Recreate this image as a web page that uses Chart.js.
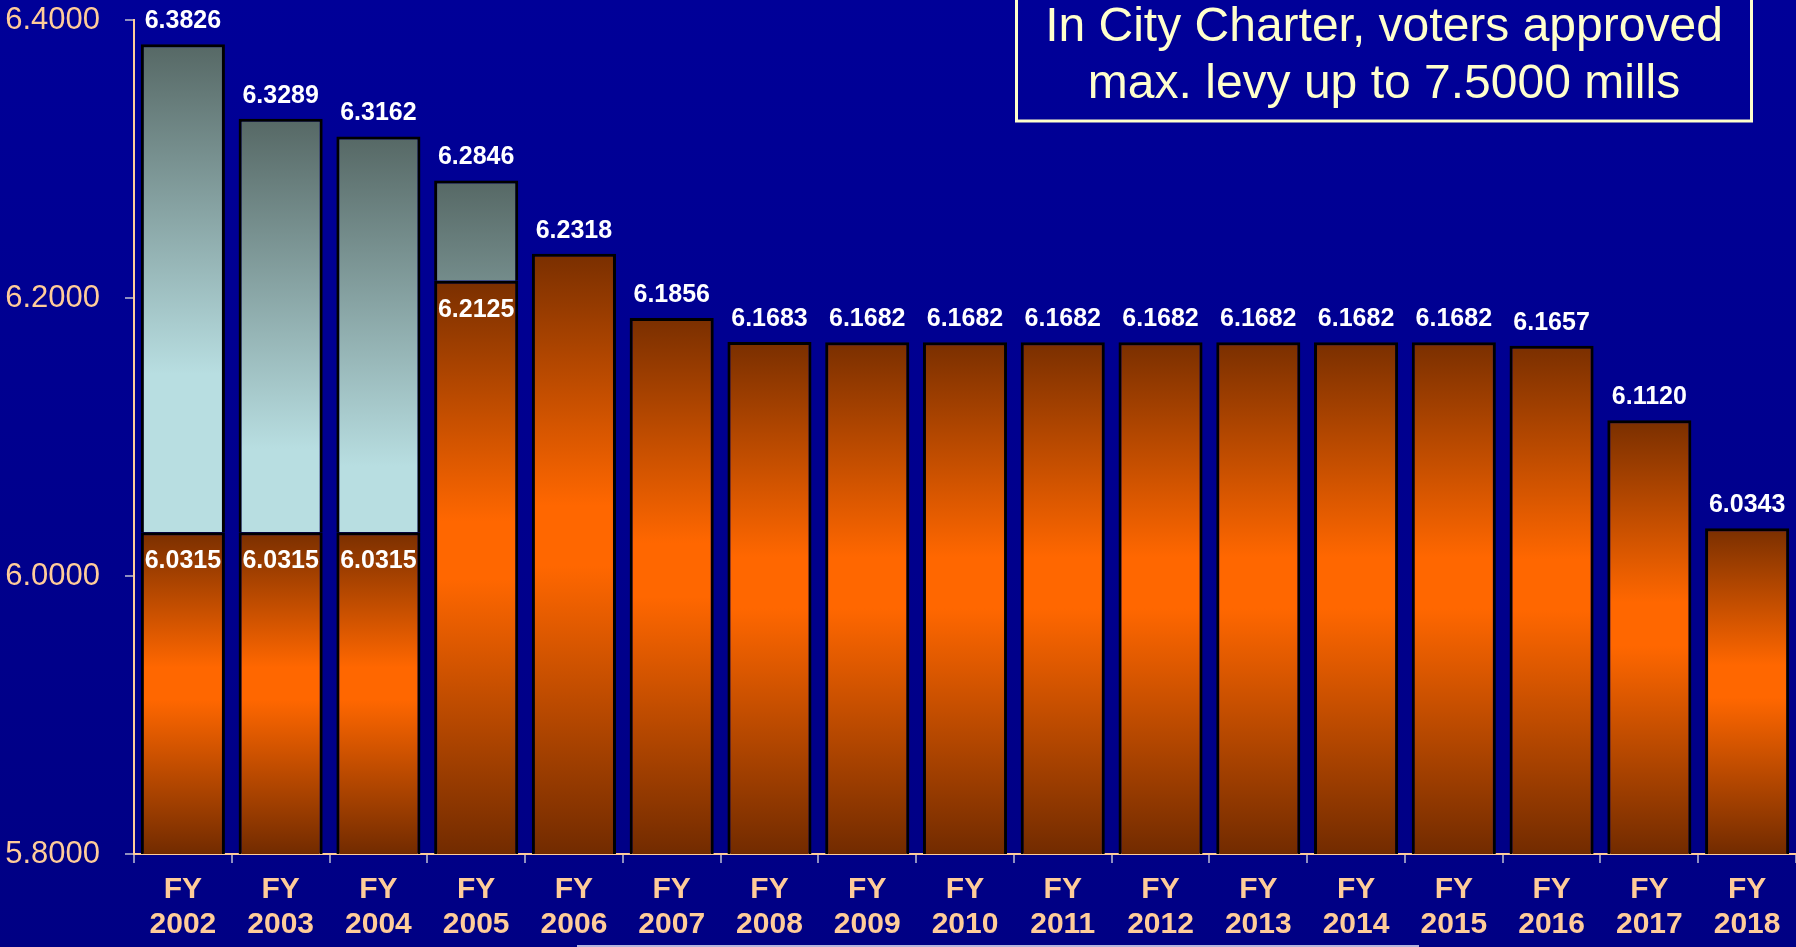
<!DOCTYPE html>
<html>
<head>
<meta charset="utf-8">
<title>Millage levy FY2002-FY2018</title>
<script src="https://cdn.jsdelivr.net/npm/chart.js@4.4.1/dist/chart.umd.min.js"></script>
<style>
  html, body { margin: 0; padding: 0; }
  body { background: linear-gradient(#000098, #000084); }
  #wrap { width: 1796px; height: 947px; position: relative; }
</style>
</head>
<body>
<div id="wrap"><canvas id="levyChart"></canvas></div>
<script>
// anni fiscali
const years = ['2002', '2003', '2004', '2005', '2006', '2007', '2008', '2009', '2010',
               '2011', '2012', '2013', '2014', '2015', '2016', '2017', '2018'];
// millage operativo (barra arancione)
const levy = [6.0315, 6.0315, 6.0315, 6.2125, 6.2318, 6.1856, 6.1683, 6.1682, 6.1682,
              6.1682, 6.1682, 6.1682, 6.1682, 6.1682, 6.1657, 6.1120, 6.0343];
// totale con la quota aggiuntiva (segmento grigio-azzurro), solo primi anni
const totals = [6.3826, 6.3289, 6.3162, 6.2846, null, null, null, null, null,
                null, null, null, null, null, null, null, null];
// asse y
const axisMin = 5.8;
const axisMax = 6.4;
const axisStep = 0.2;

const FONT = "'Liberation Sans', Arial, sans-serif";
const PEACH = '#FFCC99';

// gradiente arancione per ogni barra (scuro - arancio - scuro)
function orangeFill(c) {
    const chart = c.chart;
    if (!chart.chartArea || c.dataIndex === undefined) return '#FF6600';
    const y = chart.scales.y;
    const top = y.getPixelForValue(levy[c.dataIndex]);
    const bottom = y.getPixelForValue(axisMin);
    const g = chart.ctx.createLinearGradient(0, top, 0, bottom);
    g.addColorStop(0, '#7A2F00');
    g.addColorStop(0.42, '#FF6700');
    g.addColorStop(0.52, '#FF6700');
    g.addColorStop(1, '#722B00');
    return g;
}

// gradiente del segmento superiore (scuro in alto, chiaro in basso)
function tealFill(c) {
    const chart = c.chart;
    if (!chart.chartArea || c.dataIndex === undefined || totals[c.dataIndex] == null) return '#8FAFB0';
    const y = chart.scales.y;
    const top = y.getPixelForValue(totals[c.dataIndex]);
    const g = chart.ctx.createLinearGradient(0, top, 0, top + 330);
    g.addColorStop(0, '#566865');
    g.addColorStop(1, '#B8DEE1');
    return g;
}

// etichette dei valori
const valueLabels = {
    id: 'valueLabels',
    afterDatasetsDraw(chart) {
        const ctx = chart.ctx;
        const base = chart.getDatasetMeta(0).data;
        const upper = chart.getDatasetMeta(1).data;
        ctx.save();
        ctx.font = 'bold 25px ' + FONT;
        ctx.fillStyle = '#FFFFFF';
        ctx.textAlign = 'center';
        ctx.textBaseline = 'alphabetic';
        base.forEach((bar, i) => {
            if (totals[i] != null) {
                const top = upper[i];
                ctx.fillText(totals[i].toFixed(4), top.x, top.y - 16);
                ctx.fillText(levy[i].toFixed(4), bar.x, bar.y + 36);
            } else {
                ctx.fillText(levy[i].toFixed(4), bar.x, bar.y - 16);
            }
        });
        ctx.restore();
    }
};

// riquadro di testo e bordo in basso
const notes = {
    id: 'notes',
    afterDraw(chart) {
        const ctx = chart.ctx;
        ctx.save();
        ctx.strokeStyle = '#FFFFCC';
        ctx.lineWidth = 3;
        ctx.strokeRect(1016.5, -10, 735, 131);
        ctx.fillStyle = '#FFFFCC';
        ctx.font = '48px ' + FONT;
        ctx.textAlign = 'center';
        ctx.textBaseline = 'alphabetic';
        ctx.fillText('In City Charter, voters approved', 1384, 41);
        ctx.fillText('max. levy up to 7.5000 mills', 1384, 98);
        ctx.strokeStyle = '#B4B4DC';
        ctx.lineWidth = 2;
        ctx.strokeRect(578, 946, 840, 40);
        ctx.restore();
    }
};

new Chart(document.getElementById('levyChart'), {
    type: 'bar',
    data: {
        labels: years.map(y => ['FY', y]),
        datasets: [
            {
                label: 'Levy',
                data: levy,
                backgroundColor: orangeFill,
                borderColor: '#000000',
                borderWidth: 3,
                borderSkipped: false,
                barPercentage: 0.86,
                categoryPercentage: 1
            },
            {
                label: 'Extra',
                data: totals.map((t, i) => t == null ? null : [levy[i], t]),
                backgroundColor: tealFill,
                borderColor: '#000000',
                borderWidth: 3,
                borderSkipped: 'start',
                barPercentage: 0.86,
                categoryPercentage: 1
            }
        ]
    },
    options: {
        responsive: true,
        maintainAspectRatio: false,
        animation: false,
        layout: { padding: { top: 20, right: 0, left: 0, bottom: 0 }, autoPadding: false },
        plugins: {
            legend: { display: false },
            tooltip: { enabled: false }
        },
        scales: {
            x: {
                stacked: true,
                grid: {
                    drawOnChartArea: false,
                    drawTicks: true,
                    tickLength: 9,
                    color: '#9090C0',
                    lineWidth: 2
                },
                border: { display: true, color: PEACH, width: 2 },
                ticks: {
                    color: PEACH,
                    font: { family: FONT, size: 30, weight: 'bold', lineHeight: 1.18 },
                    padding: 9,
                    maxRotation: 0,
                    autoSkip: false
                },
                afterFit: (s) => { s.height = 93; s.paddingLeft = 0; s.paddingRight = 0; }
            },
            y: {
                min: axisMin,
                max: axisMax,
                grid: {
                    drawOnChartArea: false,
                    drawTicks: true,
                    tickLength: 9,
                    color: '#9090C0',
                    lineWidth: 2
                },
                border: { display: true, color: PEACH, width: 2 },
                ticks: {
                    stepSize: axisStep,
                    color: PEACH,
                    font: { family: FONT, size: 31 },
                    padding: 25,
                    callback: (v) => Number(v).toFixed(4)
                },
                afterFit: (s) => { s.width = 134; s.paddingTop = 0; s.paddingBottom = 0; }
            }
        }
    },
    plugins: [valueLabels, notes]
});
</script>
</body>
</html>
